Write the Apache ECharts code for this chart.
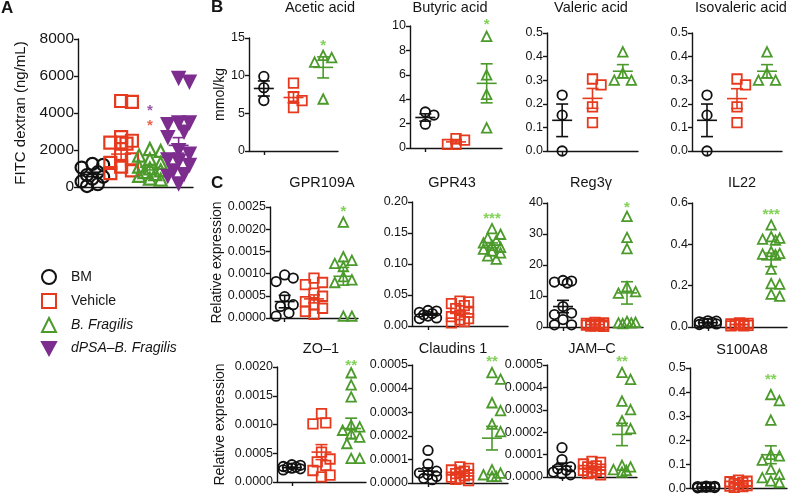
<!DOCTYPE html>
<html>
<head>
<meta charset="utf-8">
<script src="https://cdn.jsdelivr.net/npm/echarts@6/dist/echarts.min.js"></script>
<style>
  html, body { margin: 0; padding: 0; background: #fff; }
  #chart { width: 788px; height: 495px; }
</style>
</head>
<body>
<div id="chart"></div>
<script>
// groups (x categories)
const groupNames = ['BM', 'Vehicle', 'B. Fragilis', 'dPSA–B. Fragilis'];

// A  FITC dextran
const fitcTicks = ['0', '2000', '4000', '6000', '8000'];
const fitcPts = [
  [1250, 1200, 1050, 800, 650, 550, 450, 300, 150, 50],
  [4650, 4600, 2700, 2500, 2400, 2400, 2350, 1700, 1500, 1300, 1100, 900, 750],
  [2050, 1950, 1700, 1500, 1300, 1100, 1000, 900, 800, 700, 600, 450, 400],
  [5900, 5700, 3500, 3500, 3400, 3000, 2700, 2000, 1800, 1500, 1400, 1200, 900, 700, 600, 200]
];
const fitcMean = [680, 1780, 1070, 2250];
const fitcSem = [120, 300, 150, 420];
const fitcStars = [[2, 3525, '*', 1], [2, 4350, '*', 3]];

// B  short chain fatty acids (mmol/kg)
const aceticTicks = ['0', '5', '10', '15'];
const aceticPts = [[9.9, 8.4, 6.7], [9.0, 7.2, 6.7, 5.75], [12.7, 12.4, 11.8, 6.9]];
const aceticMean = [8.3, 7.1, 11.1];
const aceticSem = [1.0, 0.7, 1.4];
const aceticStars = [[2, 14.5, '*', 2]];

const butyricTicks = ['0', '2', '4', '6', '8', '10'];
const butyricPts = [[2.95, 2.7, 1.95], [0.77, 0.65, 0.3, 0.3], [9.15, 6.0, 4.4, 1.65]];
const butyricMean = [2.5, 0.5, 5.3];
const butyricSem = [0.3, 0.15, 1.6];
const butyricStars = [[2, 10.4, '*', 2]];

const valericTicks = ['0.0', '0.1', '0.2', '0.3', '0.4', '0.5'];
const valericPts = [[0.237, 0.152, 0.0], [0.305, 0.28, 0.187, 0.12], [0.42, 0.33, 0.30, 0.30]];
const valericMean = [0.13, 0.223, 0.338];
const valericSem = [0.069, 0.042, 0.028];

const isovalericTicks = ['0.0', '0.1', '0.2', '0.3', '0.4', '0.5'];
const isovalericPts = [[0.237, 0.152, 0.0], [0.305, 0.28, 0.187, 0.12], [0.42, 0.33, 0.30, 0.30]];
const isovalericMean = [0.13, 0.222, 0.338];
const isovalericSem = [0.069, 0.042, 0.028];

// C  relative expression
const gpr109aTicks = ['0.0000', '0.0005', '0.0010', '0.0015', '0.0020', '0.0025'];
const gpr109aPts = [
  [0.00097, 0.0009, 0.00082, 0.00048, 0.0003, 0.00026, 0.00011, 0.00004],
  [0.0009, 0.0008, 0.00075, 0.00056, 0.00049, 0.00037, 0.0003, 0.00022, 0.00015, 0.00008],
  [0.00216, 0.00138, 0.0013, 0.00123, 0.00116, 0.00093, 0.00086, 0.0008, 0.00004, 0.00004]
];
const gpr109aMean = [0.00037, 0.00043, 0.00094];
const gpr109aSem = [0.00014, 0.00009, 0.0002];
const gpr109aStars = [[2, 0.00248, '*', 2]];

const gpr43Ticks = ['0.00', '0.05', '0.10', '0.15', '0.20'];
const gpr43Pts = [
  [0.025, 0.024, 0.022, 0.02, 0.018, 0.016, 0.013, 0.012],
  [0.04, 0.039, 0.036, 0.033, 0.028, 0.022, 0.018, 0.015, 0.012, 0.01, 0.007, 0.005],
  [0.157, 0.148, 0.142, 0.138, 0.134, 0.13, 0.127, 0.124, 0.121, 0.118, 0.113, 0.108]
];
const gpr43Mean = [0.019, 0.021, 0.13];
const gpr43Sem = [0.0015, 0.003, 0.004];
const gpr43Stars = [[2, 0.18, '***', 2]];

const reg3gTicks = ['0', '10', '20', '30', '40'];
const reg3gPts = [
  [15, 14.8, 14.5, 14.2, 6.6, 4.5, 4, 2.4, 0.7, 0.7],
  [1.5, 1.3, 1.2, 1.0, 0.9, 0.8, 0.7, 0.6, 0.5, 0.4, 0.3, 0.2],
  [35.7, 28.9, 25.3, 13, 11.4, 10.9, 1.8, 1.5, 1.3, 1.3, 1.1]
];
const reg3gMean = [6.6, 0.8, 11];
const reg3gSem = [2.0, 0.1, 3.6];
const reg3gStars = [[2, 39.6, '*', 2]];

const il22Ticks = ['0.0', '0.2', '0.4', '0.6'];
const il22Pts = [
  [0.03, 0.028, 0.025, 0.022, 0.02, 0.018, 0.015, 0.012],
  [0.02, 0.018, 0.015, 0.013, 0.012, 0.01, 0.008, 0.006, 0.005],
  [0.494, 0.437, 0.43, 0.425, 0.42, 0.365, 0.356, 0.353, 0.35, 0.28, 0.21, 0.207, 0.159, 0.149]
];
const il22Mean = [0.021, 0.012, 0.325];
const il22Sem = [0.002, 0.002, 0.033];
const il22Stars = [[2, 0.56, '***', 2]];

const zo1Ticks = ['0.0000', '0.0005', '0.0010', '0.0015', '0.0020'];
const zo1Pts = [
  [0.0003, 0.00029, 0.00027, 0.00026, 0.00025, 0.00024, 0.00023, 0.00021],
  [0.00119, 0.00103, 0.00101, 0.00052, 0.0004, 0.00035, 0.00029, 0.0002, 0.00012, 0.00009],
  [0.0019, 0.00169, 0.00148, 0.00099, 0.00096, 0.0009, 0.00084, 0.00078, 0.00067, 0.00041, 0.00041]
];
const zo1Mean = [0.00025, 0.00052, 0.00093];
const zo1Sem = [0.00001, 0.00013, 0.00018];
const zo1Stars = [[2, 0.00209, '**', 2]];

const claudinTicks = ['0.0000', '0.0001', '0.0002', '0.0003', '0.0004', '0.0005'];
const claudinPts = [
  [0.000138, 0.00008, 0.00005, 0.000042, 0.000035, 0.000028, 0.00002, 0.000014],
  [0.000068, 0.000062, 0.000055, 0.00005, 0.000045, 0.00004, 0.000035, 0.00003, 0.000025, 0.00002, 0.000015, 0.00001],
  [0.000468, 0.00044, 0.00034, 0.000307, 0.00025, 0.000218, 0.000056, 0.000042, 0.000035, 0.000028, 0.000028]
];
const claudinMean = [0.00005, 0.00004, 0.00019];
const claudinSem = [0.000014, 0.000005, 0.00005];
const claudinStars = [[2, 0.00053, '**', 2]];

const jamcTicks = ['0.0000', '0.0001', '0.0002', '0.0003', '0.0004', '0.0005'];
const jamcPts = [
  [0.000131, 0.000078, 0.000045, 0.000037, 0.00003, 0.000022, 0.000015, 0.00001],
  [0.00007, 0.000065, 0.000058, 0.00005, 0.000045, 0.00004, 0.000035, 0.00003, 0.000025, 0.00002, 0.000015, 0.00001],
  [0.000467, 0.000436, 0.000339, 0.000301, 0.000251, 0.000216, 0.000052, 0.000045, 0.000033, 0.00003, 0.000022]
];
const jamcMean = [0.000048, 0.00004, 0.00019];
const jamcSem = [0.000014, 0.000005, 0.00005];
const jamcStars = [[2, 0.00053, '**', 2]];

const s100a8Ticks = ['0.0', '0.1', '0.2', '0.3', '0.4', '0.5'];
const s100a8Pts = [
  [0.01, 0.009, 0.008, 0.007, 0.006, 0.005, 0.004, 0.003],
  [0.035, 0.03, 0.028, 0.025, 0.02, 0.015, 0.012, 0.01, 0.008, 0.005],
  [0.39, 0.365, 0.284, 0.142, 0.135, 0.118, 0.08, 0.059, 0.045, 0.032, 0.025]
];
const s100a8Mean = [0.006, 0.019, 0.14];
const s100a8Sem = [0.001, 0.004, 0.037];
const s100a8Stars = [[2, 0.468, '**', 2]];

// styles
const FONT = 'Liberation Sans, Arial, sans-serif';
const INK = '#151515';
const COL = ['#111111', '#E63A1F', '#4B9A2B', '#7C2D8E'];
const STAR_COL = ['#111111', '#E63A1F', '#63C52F', '#7C2D8E'];
const SYM = ['circle', 'rect', 'triangle', 'triangle'];
const ROT = [0, 0, 0, 180];

// layout of every panel
const panels = [
  { pts: fitcPts, mean: fitcMean, sem: fitcSem, stars: fitcStars, ticks: fitcTicks,
    grid: { left: 78, top: 39, width: 115, height: 148 }, big: true,
    yName: 'FITC dextran (ng/mL)', nameGap: 50 },
  { title: 'Acetic acid', tx: 320, ty: 0, pts: aceticPts, mean: aceticMean, sem: aceticSem, stars: aceticStars, ticks: aceticTicks,
    grid: { left: 249, top: 38, width: 89, height: 113 }, yName: 'mmol/kg', nameGap: 22 },
  { title: 'Butyric acid', tx: 450, ty: 0, pts: butyricPts, mean: butyricMean, sem: butyricSem, stars: butyricStars, ticks: butyricTicks,
    grid: { left: 410, top: 26, width: 92, height: 122 } },
  { title: 'Valeric acid', tx: 591, ty: 0, pts: valericPts, mean: valericMean, sem: valericSem, stars: [], ticks: valericTicks,
    grid: { left: 547, top: 33, width: 91, height: 118 } },
  { title: 'Isovaleric acid', tx: 741, ty: 0, pts: isovalericPts, mean: isovalericMean, sem: isovalericSem, stars: [], ticks: isovalericTicks,
    grid: { left: 692, top: 33, width: 90, height: 118 } },
  { title: 'GPR109A', tx: 322, ty: 175, pts: gpr109aPts, mean: gpr109aMean, sem: gpr109aSem, stars: gpr109aStars, ticks: gpr109aTicks,
    grid: { left: 270, top: 207, width: 88, height: 111 }, yName: 'Relative expression', nameGap: 43 },
  { title: 'GPR43', tx: 452, ty: 175, pts: gpr43Pts, mean: gpr43Mean, sem: gpr43Sem, stars: gpr43Stars, ticks: gpr43Ticks,
    grid: { left: 412, top: 202, width: 96, height: 124 } },
  { title: 'Reg3γ', tx: 591, ty: 175, pts: reg3gPts, mean: reg3gMean, sem: reg3gSem, stars: reg3gStars, ticks: reg3gTicks,
    grid: { left: 547, top: 203, width: 96, height: 124 } },
  { title: 'IL22', tx: 742, ty: 175, pts: il22Pts, mean: il22Mean, sem: il22Sem, stars: il22Stars, ticks: il22Ticks,
    grid: { left: 692, top: 203, width: 95, height: 124 } },
  { title: 'ZO–1', tx: 321, ty: 341, pts: zo1Pts, mean: zo1Mean, sem: zo1Sem, stars: zo1Stars, ticks: zo1Ticks,
    grid: { left: 277, top: 367, width: 89, height: 115 }, yName: 'Relative expression', nameGap: 50 },
  { title: 'Claudins 1', tx: 453, ty: 341, pts: claudinPts, mean: claudinMean, sem: claudinSem, stars: claudinStars, ticks: claudinTicks,
    grid: { left: 412, top: 365, width: 96, height: 118 } },
  { title: 'JAM–C', tx: 592, ty: 341, pts: jamcPts, mean: jamcMean, sem: jamcSem, stars: jamcStars, ticks: jamcTicks,
    grid: { left: 547, top: 365, width: 90, height: 112 } },
  { title: 'S100A8', tx: 742, ty: 342, pts: s100a8Pts, mean: s100a8Mean, sem: s100a8Sem, stars: s100a8Stars, ticks: s100a8Ticks,
    grid: { left: 690, top: 368, width: 97, height: 121 } }
];

// simple beeswarm: horizontal offsets so symbols overlap less
function swarm(vals, unitPx, size, maxOff) {
  const order = vals.map((v, i) => i).sort((a, b) => vals[b] - vals[a]);
  const step = size * 0.45;
  const cands = [0];
  for (let k = 1; k * step <= maxOff + 0.01; k++) cands.push(k * step, -k * step);
  const placed = [];
  const off = vals.map(() => 0);
  order.forEach(i => {
    const y = vals[i] * unitPx;
    let best = 0, bestD = -1;
    for (const x of cands) {
      let d = Infinity;
      placed.forEach(p => { d = Math.min(d, Math.hypot(p[0] - x, p[1] - y)); });
      if (d >= size * 1.05) { best = x; break; }
      if (d > bestD + 0.5) { bestD = d; best = x; }
    }
    placed.push([best, y]);
    off[i] = best;
  });
  return off;
}

const grids = [], xAxes = [], yAxes = [], series = [];
const titles = [
  { text: 'A', left: 1, top: 0, padding: 0, textStyle: { fontSize: 17, fontWeight: 'bold', color: INK, fontFamily: FONT } },
  { text: 'B', left: 211, top: -1, padding: 0, textStyle: { fontSize: 17, fontWeight: 'bold', color: INK, fontFamily: FONT } },
  { text: 'C', left: 211, top: 175, padding: 0, textStyle: { fontSize: 17, fontWeight: 'bold', color: INK, fontFamily: FONT } }
];

panels.forEach((p, i) => {
  const big = !!p.big;
  const size = big ? 12 : 9.5;
  const lo = +p.ticks[0], hi = +p.ticks[p.ticks.length - 1];
  const step = p.ticks[1] - p.ticks[0];
  const axisLine = { show: true, lineStyle: { color: INK, width: 1.4 } };
  const axisTick = { show: true, length: 4, lineStyle: { color: INK, width: 1.4 } };

  grids.push(Object.assign({ containLabel: false }, p.grid));
  if (p.title) {
    titles.push({ text: p.title, left: p.tx, top: p.ty, padding: 0, textAlign: 'center',
      textStyle: { fontSize: 14.5, fontWeight: 'normal', color: INK, fontFamily: FONT } });
  }
  xAxes.push({
    type: 'category', gridIndex: i, data: groupNames.slice(0, p.pts.length), boundaryGap: true,
    axisLine, axisTick: Object.assign({ alignWithLabel: true }, axisTick),
    axisLabel: { show: false }, splitLine: { show: false }
  });
  yAxes.push({
    type: 'value', gridIndex: i, min: lo, max: hi, interval: step,
    axisLine, axisTick, splitLine: { show: false },
    axisLabel: {
      fontSize: big ? 15.5 : 12.5, color: INK, fontFamily: FONT, margin: 4,
      formatter: v => p.ticks.find(t => Math.abs(+t - v) < step * 1e-3) || ''
    },
    name: p.yName || '', nameLocation: 'middle', nameGap: p.nameGap || 0,
    nameTextStyle: { fontSize: big ? 15 : 14, color: INK, fontFamily: FONT }
  });

  const unitPx = p.grid.height / (hi - lo);
  p.pts.forEach((vals, g) => {
    const off = swarm(vals, unitPx, size, big ? 11 : 9);
    series.push({
      type: 'scatter', name: groupNames[g], xAxisIndex: i, yAxisIndex: i,
      symbol: SYM[g], symbolSize: size, symbolRotate: ROT[g], silent: true, z: 2,
      itemStyle: { color: g === 3 ? COL[g] : 'rgba(255,255,255,0)', borderColor: COL[g], borderWidth: big ? 2.2 : 1.8, opacity: 1 },
      data: vals.map((v, k) => ({ value: [g, v], symbolOffset: [off[k], 0] }))
    });
  });

  // mean ± SEM
  series.push({
    type: 'custom', xAxisIndex: i, yAxisIndex: i, silent: true, z: 3,
    data: p.mean.map((m, g) => [g, m, p.sem[g]]),
    renderItem: (params, api) => {
      const g = api.value(0), m = api.value(1), e = api.value(2);
      const c = api.coord([g, m]);
      const t = api.coord([g, m + e]);
      const b = api.coord([g, m - e]);
      const style = { stroke: COL[g], lineWidth: 1.6 };
      const hw = 10, cw = 6;
      return {
        type: 'group', children: [
          { type: 'line', shape: { x1: c[0] - hw, y1: c[1], x2: c[0] + hw, y2: c[1] }, style },
          { type: 'line', shape: { x1: c[0], y1: t[1], x2: c[0], y2: b[1] }, style },
          { type: 'line', shape: { x1: c[0] - cw, y1: t[1], x2: c[0] + cw, y2: t[1] }, style },
          { type: 'line', shape: { x1: c[0] - cw, y1: b[1], x2: c[0] + cw, y2: b[1] }, style }
        ]
      };
    }
  });

  if (p.stars.length) {
    series.push({
      type: 'scatter', xAxisIndex: i, yAxisIndex: i, symbolSize: 0.1, silent: true, z: 4, clip: false,
      itemStyle: { color: 'rgba(0,0,0,0)' },
      label: { show: true, position: 'inside', offset: [0, 4], fontSize: 15, fontWeight: 'bold', fontFamily: FONT },
      data: p.stars.map(s => ({ value: [s[0], s[1]], label: { formatter: s[2], color: STAR_COL[s[3]] } }))
    });
  }
});

const chart = echarts.init(document.getElementById('chart'), null, { renderer: 'canvas' });
chart.setOption({
  animation: false,
  backgroundColor: '#fff',
  title: titles,
  grid: grids,
  xAxis: xAxes,
  yAxis: yAxes,
  legend: {
    orient: 'vertical', left: 36, top: 264, itemWidth: 14, itemHeight: 14, itemGap: 8,
    selectedMode: false,
    data: [
      { name: groupNames[0] }, { name: groupNames[1] }, { name: groupNames[2] },
      { name: groupNames[3], icon: 'path://M0,0 L12,0 L6,11 Z' }
    ],
    textStyle: {
      fontSize: 14, color: INK, fontFamily: FONT,
      rich: {
        n: { fontSize: 14, color: INK, fontFamily: FONT, padding: [0, 0, 0, 10] },
        i: { fontSize: 14, fontStyle: 'italic', color: INK, fontFamily: FONT, padding: [0, 0, 0, 10] }
      }
    },
    formatter: n => (n === 'BM' || n === 'Vehicle') ? '{n|' + n + '}' : '{i|' + n + '}'
  },
  series
});
</script>
</body>
</html>
